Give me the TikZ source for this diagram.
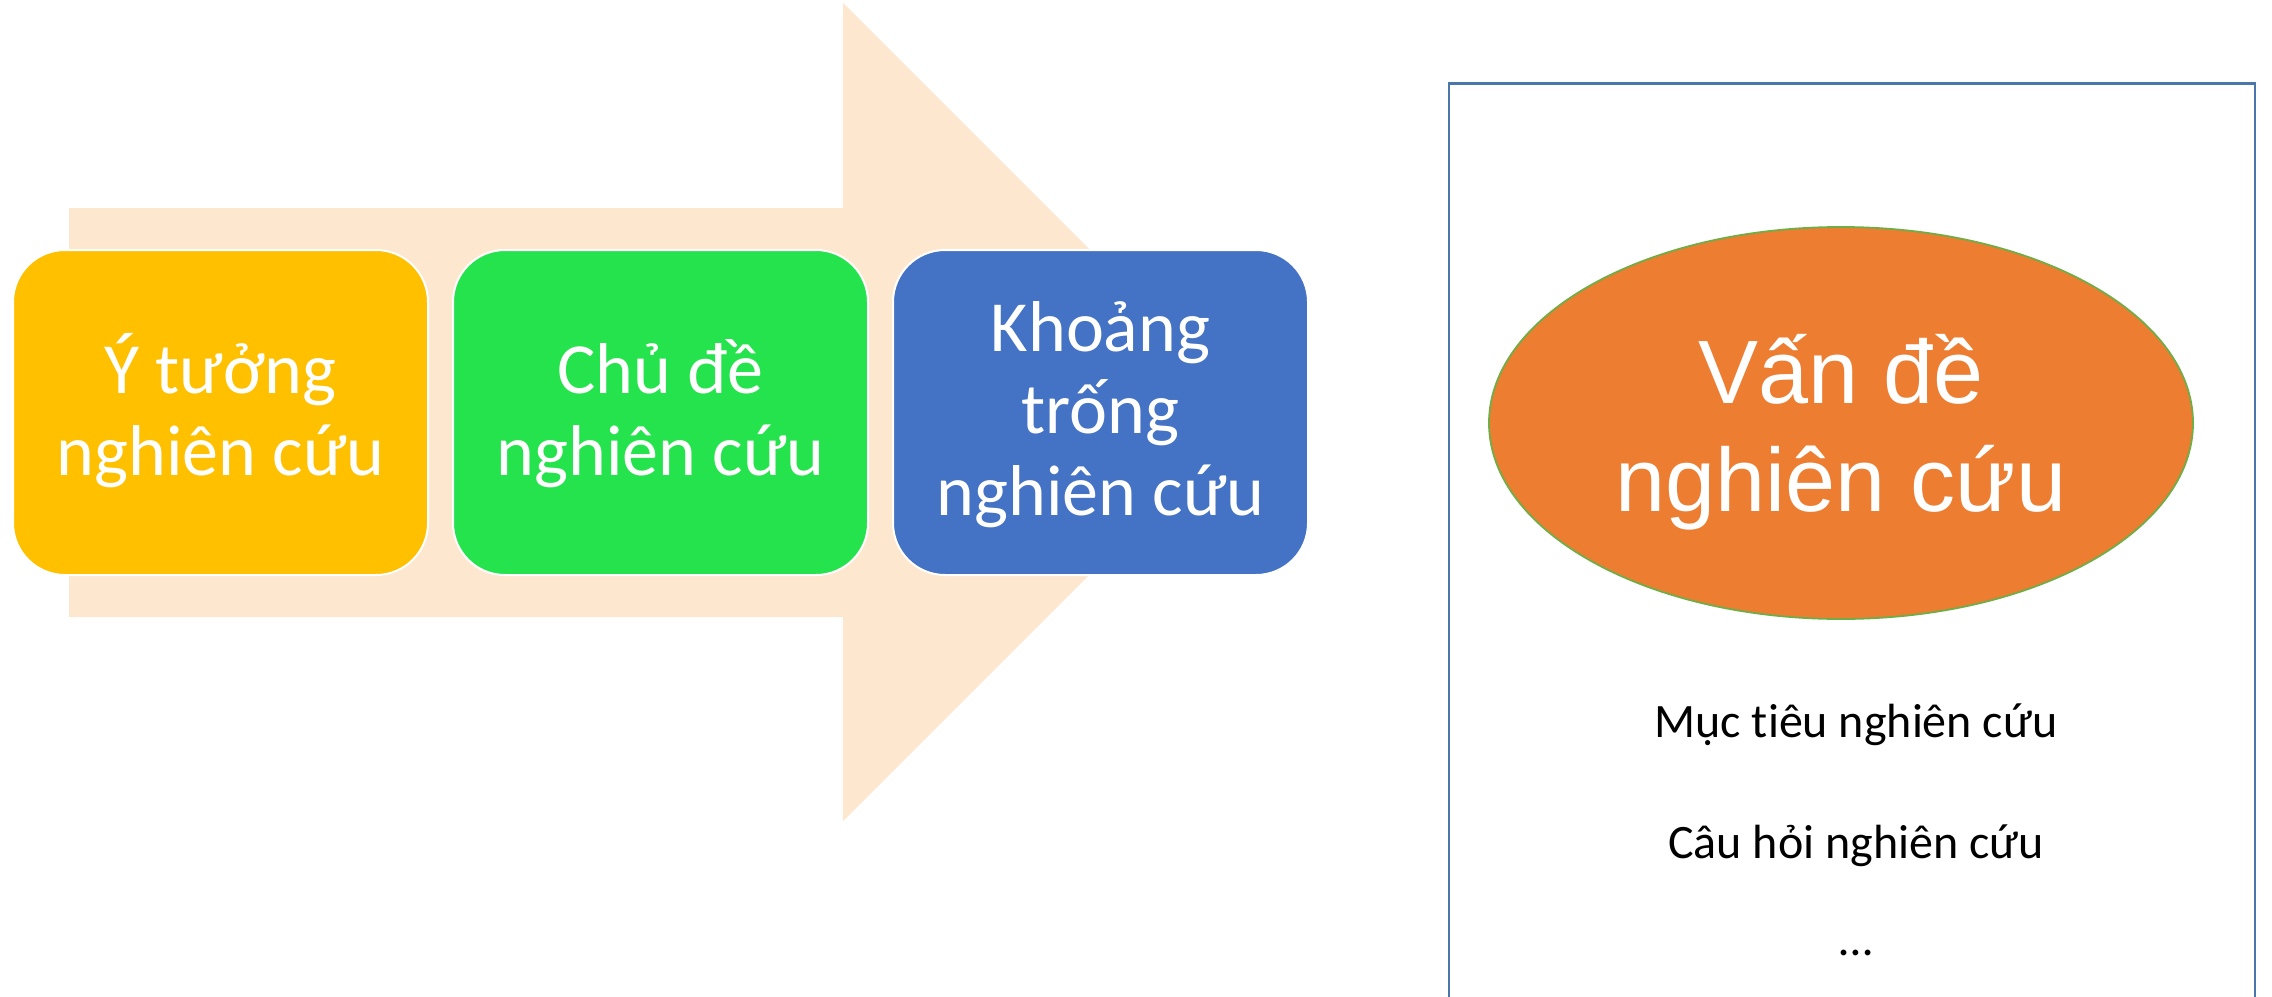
\documentclass[tikz,border=0pt]{standalone}
\usepackage{fontspec}
\setmainfont{Carlito}[Ligatures=NoCommon]
\newfontfamily\arialfont{Liberation Sans}
\definecolor{arrowfill}{HTML}{FDE8CF}
\definecolor{cyellow}{HTML}{FFC000}
\definecolor{cgreen}{HTML}{25E34C}
\definecolor{cblue}{HTML}{4472C4}
\definecolor{corange}{HTML}{ED7D31}
\definecolor{cellborder}{HTML}{70AD47}
\definecolor{frameblue}{HTML}{4A77A9}
\tikzset{
  stepbox/.style={draw=white, line width=2pt, rounded corners=52pt, minimum width=415pt, minimum height=325pt, inner sep=0pt},
  boxtext/.style={text=white, align=center, anchor=base, inner sep=0pt, font=\fontsize{72}{82}\selectfont},
  listtext/.style={text=black, anchor=base, inner sep=0pt, font=\fontsize{48}{56}\selectfont},
}
\begin{document}
\begin{tikzpicture}[x=1pt, y=-1pt]
\fill[white] (0,0) rectangle (2272,996);
\useasboundingbox (0,0) rectangle (2272,996);
% big background arrow
\fill[arrowfill] (69,208) -- (843,208) -- (843,3) -- (1252,412) -- (843,821) -- (843,617) -- (69,617) -- cycle;
% three boxes
\node[stepbox, fill=cyellow] (b1) at (220.5,412.5) {};
\node[stepbox, fill=cgreen] (b2) at (660.5,412.5) {};
\node[stepbox, fill=cblue] (b3) at (1100.5,412.5) {};
\node[boxtext] (t1) at (220.5,475) {Ý tưởng\\nghiên cứu};
\node[boxtext] (t2) at (660.5,475) {Chủ đề\\nghiên cứu};
\node[boxtext] (t3) at (1100.5,515) {Khoảng\\trống\\nghiên cứu};
% right frame (open at the bottom)
\draw[frameblue, line width=2.5pt] (1449,1010) -- (1449,83.5) -- (2255,83.5) -- (2255,1010);
% ellipse
\fill[corange] (1841,423) ellipse [x radius=352, y radius=196];
\draw[cellborder, line width=1.8pt] (1841,423) ellipse [x radius=352, y radius=196];
\node[text=white, align=center, anchor=base, inner sep=0pt, font=\arialfont\fontsize{90}{108}\selectfont] (vd) at (1841,511) {Vấn đề\\nghiên cứu};
% list
\node[listtext] (m1) at (1856,737) {Mục tiêu nghiên cứu};
\node[listtext] (m2) at (1856,858) {Câu hỏi nghiên cứu};
\node[listtext] (m3) at (1856,955) {…};
\end{tikzpicture}
\end{document}
